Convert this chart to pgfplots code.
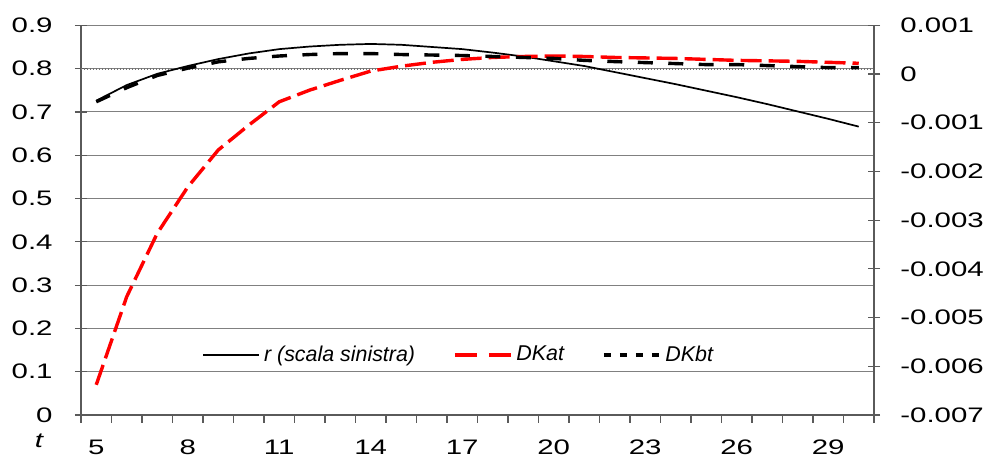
\documentclass[border=0pt]{standalone}
\usepackage{pgfplots}
\pgfplotsset{compat=1.18}
\usepackage{graphicx}
\usepackage{fontspec}
\setmainfont{Liberation Sans}
\definecolor{gridgray}{RGB}{128,128,128}
\definecolor{axisgray}{RGB}{90,90,90}
\newcommand{\sx}[1]{\scalebox{1.4}[1]{#1}}

\begin{document}
\begin{tikzpicture}[font=\fontsize{10.5}{12}\selectfont]
\path[use as bounding box] (-40.5pt,-23pt) rectangle (453pt,207.5pt);
\pgfplotsset{
  base/.style={
    at={(0,0)}, anchor=south west, scale only axis,
    width=396.5pt, height=194.85pt,
    xmin=4.5, xmax=30.5,
    /pgf/number format/assume math mode=true,
    tick align=center,
    major tick length=6pt,
    minor tick length=4pt,
    tick style={axisgray, line width=0.6pt},
    axis line style={axisgray, line width=0.8pt, -},
    clip=false,
  }
}
\begin{axis}[base,
  ymin=0, ymax=0.9,
  axis x line*=bottom, axis y line*=left,
  xtick={5,8,11,14,17,20,23,26,29},
  xticklabels={\sx{5},\sx{8},\sx{11},\sx{14},\sx{17},\sx{20},\sx{23},\sx{26},\sx{29}},
  major x tick style={draw=none},
  minor xtick={4.5,5.5,...,30.5},
  minor x tick style={yshift=-2pt},
  xticklabel style={anchor=base, yshift=-16.8pt},
  ytick={0,0.1,0.2,0.3,0.4,0.5,0.6,0.7,0.8,0.9},
  yticklabels={\sx{0},\sx{0.1},\sx{0.2},\sx{0.3},\sx{0.4},\sx{0.5},\sx{0.6},\sx{0.7},\sx{0.8},\sx{0.9}},
  yticklabel style={anchor=east, inner sep=0pt, xshift=-11pt},
  ymajorgrids,
  major grid style={gridgray, line width=0.5pt},
  extra y ticks={0.8},
  extra y tick labels={},
  extra y tick style={grid=major, major tick length=0pt,
     major grid style={black!55, densely dotted, line width=1.1pt}},
]
\addplot[black, line width=0.85pt] coordinates {
(5,0.726) (6,0.762) (7,0.788) (8,0.806) (9,0.822) (10,0.835) (11,0.845)
(12,0.851) (13,0.855) (14,0.857) (15,0.855) (16,0.850) (17,0.845) (18,0.837)
(19,0.828) (20,0.817) (21,0.806) (22,0.792) (23,0.778) (24,0.764) (25,0.749)
(26,0.734) (27,0.718) (28,0.701) (29,0.684) (30,0.666)};
\end{axis}

\begin{axis}[base,
  ymin=-0.007, ymax=0.001,
  axis x line=none, axis y line*=right,
  ytick={-0.007,-0.006,-0.005,-0.004,-0.003,-0.002,-0.001,0,0.001},
  yticklabels={\sx{-0.007},\sx{-0.006},\sx{-0.005},\sx{-0.004},\sx{-0.003},\sx{-0.002},\sx{-0.001},\sx{0},\sx{0.001}},
  scaled y ticks=false,
  yticklabel style={anchor=west, inner sep=0pt, xshift=10pt},
  legend image code/.code={\draw[#1] (0pt,0pt) -- (28pt,0pt);},
  legend style={at={(0.145,0.154)}, anchor=west, draw=none, fill=none,
     font=\itshape\fontsize{10.7}{12}\selectfont, legend columns=3,
     /tikz/every even column/.append style={column sep=17pt}},
]
\addlegendimage{black, line width=0.85pt}
\addlegendentry{r (scala sinistra)}
\addlegendimage{red, line width=1.7pt, dash pattern=on 11pt off 6pt}
\addlegendentry{DKat}
\addlegendimage{black, line width=1.7pt, dash pattern=on 3.5pt off 4.5pt}
\addlegendentry{DKbt}
\addplot[red, line width=1.7pt, dash pattern=on 10.5pt off 3.5pt, forget plot] coordinates {
(5,-0.00638) (6,-0.00457) (7,-0.00327) (8,-0.00232) (9,-0.00156) (10,-0.00105)
(11,-0.00057) (12,-0.00033) (13,-0.00013) (14,0.00006) (15,0.00016) (16,0.00024)
(17,0.00030) (18,0.00034) (19,0.00036) (20,0.00037) (21,0.00036) (22,0.00034)
(23,0.00033) (24,0.00032) (25,0.00030) (26,0.00028) (27,0.00027) (28,0.00026)
(29,0.00024) (30,0.00022)};
\addplot[black, line width=1.7pt, dash pattern=on 7.5pt off 7.75pt, forget plot] coordinates {
(5,-0.00057) (6,-0.00028) (7,-0.00003) (8,0.00012) (9,0.00025) (10,0.00032)
(11,0.00037) (12,0.00040) (13,0.00042) (14,0.00042) (15,0.00040) (16,0.00039)
(17,0.00038) (18,0.00036) (19,0.00034) (20,0.00032) (21,0.00028) (22,0.000255)
(23,0.000234) (24,0.000214) (25,0.000193) (26,0.000193) (27,0.000173) (28,0.000152)
(29,0.000131) (30,0.00013)};
\end{axis}
\node at (-21pt,-13pt) {\itshape\sx{t}};
\end{tikzpicture}
\end{document}
